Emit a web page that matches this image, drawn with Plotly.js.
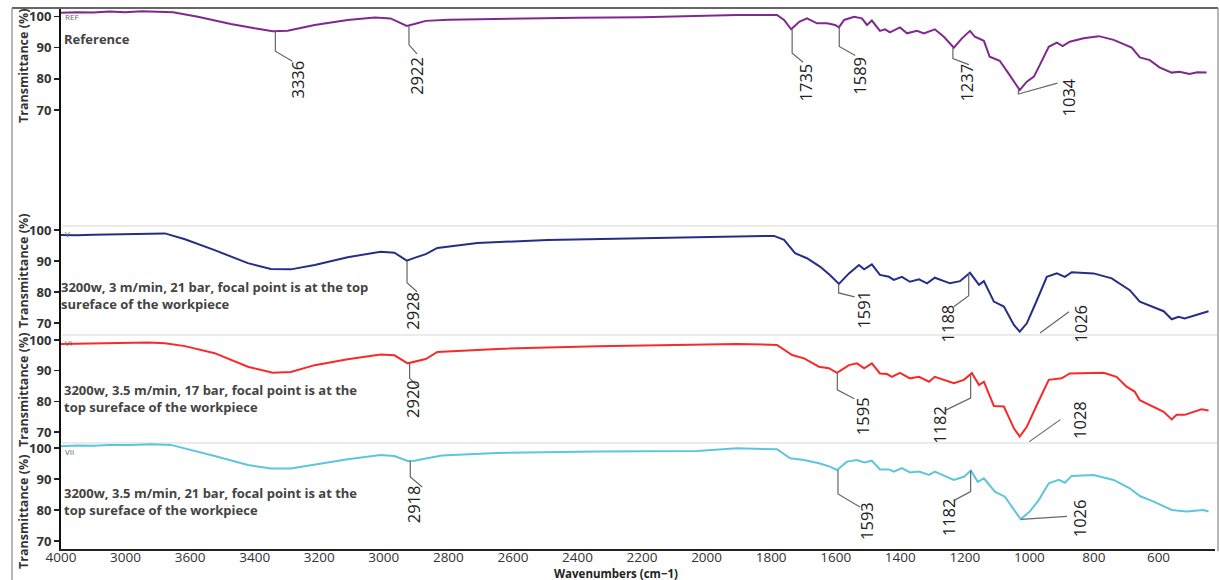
<!DOCTYPE html>
<html>
<head>
<meta charset="utf-8">
<script src="https://cdn.plot.ly/plotly-3.0.1.min.js"></script>
<style>html,body{margin:0;padding:0;background:#fff;}#chart{width:1220px;height:580px;}</style>
</head>
<body>
<div id="chart"></div>
<script>
// ---------------- DATA ----------------
const xTickVals = [4000, 3800, 3600, 3400, 3200, 3000, 2800, 2600, 2400, 2200, 2000, 1800, 1600, 1400, 1200, 1000, 800, 600];
const xTickText = ['4000', '3000', '3600', '3400', '3200', '3000', '2800', '2600', '2400', '2200', '2000', '1800', '1600', '1400', '1200', '1000', '800', '600'];
const yTickVals = [70, 80, 90, 100];

const refWn = [4000, 3950, 3900, 3850, 3800, 3750, 3700, 3653, 3576, 3474, 3400, 3344, 3298, 3214, 3112, 3028, 2979, 2929, 2905, 2870, 2800, 2600, 2400, 2200, 2000, 1906, 1782, 1760, 1738, 1713, 1689, 1658, 1627, 1602, 1590, 1574, 1543, 1519, 1503, 1488, 1463, 1447, 1432, 1401, 1379, 1348, 1327, 1293, 1265, 1234, 1209, 1184, 1169, 1141, 1123, 1092, 1061, 1030, 1008, 986, 968, 940, 915, 897, 875, 832, 785, 739, 683, 658, 627, 597, 559, 535, 504, 480, 451];
const refT = [101.2, 101.4, 101.3, 101.6, 101.4, 101.7, 101.5, 101.4, 99.9, 97.6, 96.2, 95.3, 95.4, 97.3, 98.9, 99.7, 99.4, 97.0, 97.6, 98.6, 99.0, 99.4, 99.6, 99.8, 100.2, 100.5, 100.5, 98.9, 95.9, 98.3, 99.4, 97.8, 97.8, 97.3, 96.5, 98.9, 99.9, 99.4, 97.3, 98.7, 95.4, 95.9, 94.9, 96.5, 94.6, 95.4, 94.6, 95.9, 93.5, 90.0, 93.0, 95.4, 93.5, 92.2, 87.1, 85.8, 81.2, 76.4, 79.1, 80.7, 84.4, 90.3, 91.6, 90.5, 91.9, 93.0, 93.7, 92.5, 90.0, 86.9, 86.0, 83.7, 82.0, 82.3, 81.6, 82.1, 82.0];

const vWn = [4000, 3950, 3900, 3850, 3783, 3730, 3678, 3616, 3524, 3421, 3350, 3288, 3214, 3112, 3010, 2967, 2929, 2905, 2870, 2834, 2710, 2493, 2184, 2029, 1906, 1791, 1760, 1726, 1689, 1649, 1618, 1590, 1559, 1528, 1512, 1488, 1463, 1435, 1420, 1395, 1370, 1342, 1317, 1293, 1246, 1215, 1184, 1156, 1141, 1110, 1079, 1048, 1030, 1008, 983, 946, 915, 890, 869, 801, 745, 689, 658, 615, 584, 559, 538, 519, 482, 445];
const vT = [98.4, 98.3, 98.5, 98.6, 98.7, 98.9, 98.9, 97.0, 93.5, 89.3, 87.4, 87.3, 88.7, 91.2, 93.0, 92.7, 90.1, 91.0, 92.2, 94.2, 95.8, 96.8, 97.4, 97.7, 98.1, 98.1, 96.8, 92.5, 90.9, 88.2, 85.5, 82.6, 86.0, 88.7, 87.3, 88.9, 85.5, 84.9, 83.9, 84.9, 83.3, 84.1, 82.8, 84.6, 82.8, 83.5, 86.2, 82.3, 83.5, 76.9, 75.3, 69.4, 67.2, 69.9, 75.8, 84.9, 86.0, 84.9, 86.4, 86.0, 84.4, 80.6, 76.9, 75.1, 73.8, 71.2, 72.0, 71.5, 72.6, 73.8];

const viWn = [4000, 3950, 3900, 3850, 3783, 3730, 3678, 3616, 3524, 3421, 3344, 3288, 3214, 3112, 3010, 2967, 2926, 2905, 2870, 2834, 2648, 2338, 2029, 1906, 1782, 1735, 1698, 1652, 1621, 1596, 1559, 1534, 1512, 1488, 1463, 1441, 1426, 1401, 1370, 1342, 1311, 1293, 1234, 1203, 1178, 1156, 1141, 1110, 1079, 1048, 1030, 1008, 977, 940, 900, 875, 770, 730, 699, 674, 658, 615, 584, 559, 544, 519, 467, 445];
const viT = [98.7, 98.8, 99.0, 98.9, 99.1, 99.2, 98.9, 98.0, 95.7, 91.3, 89.3, 89.6, 91.8, 93.7, 95.3, 95.0, 92.4, 92.9, 93.8, 96.1, 97.1, 98.0, 98.4, 98.7, 98.4, 95.1, 94.0, 91.3, 90.8, 89.3, 91.8, 92.4, 90.8, 92.4, 89.1, 88.9, 88.0, 89.3, 87.5, 88.0, 86.4, 88.0, 85.9, 87.0, 89.2, 85.3, 86.4, 78.5, 78.3, 71.2, 68.5, 71.7, 78.8, 87.0, 87.5, 89.1, 89.3, 88.0, 84.8, 83.2, 80.4, 78.3, 76.6, 74.1, 75.6, 75.6, 77.4, 77.0];

const viiWn = [4000, 3950, 3900, 3850, 3783, 3720, 3660, 3616, 3524, 3421, 3350, 3288, 3214, 3112, 3010, 2967, 2926, 2905, 2870, 2820, 2650, 2340, 2029, 1906, 1782, 1741, 1698, 1652, 1618, 1596, 1565, 1534, 1512, 1488, 1463, 1435, 1420, 1395, 1370, 1342, 1311, 1293, 1234, 1203, 1181, 1160, 1141, 1107, 1076, 1048, 1027, 999, 971, 940, 909, 890, 869, 801, 739, 689, 658, 615, 584, 559, 513, 461, 445];
const viiT = [100.6, 100.8, 100.7, 101.0, 101.0, 101.2, 101.0, 99.9, 97.4, 94.5, 93.4, 93.4, 94.7, 96.4, 97.7, 97.4, 95.8, 95.9, 96.6, 97.6, 98.4, 98.9, 99.0, 99.9, 99.6, 96.7, 96.1, 95.1, 94.0, 92.9, 95.6, 96.1, 95.3, 95.9, 93.1, 93.1, 92.4, 93.5, 92.1, 92.4, 91.3, 92.4, 89.7, 90.7, 92.7, 89.1, 90.2, 85.9, 84.3, 80.0, 77.0, 79.5, 83.2, 88.6, 89.7, 88.8, 91.0, 91.3, 89.7, 87.0, 84.5, 82.7, 81.3, 80.0, 79.5, 80.0, 79.5];

// peak labels (wavenumber) and the transmittance at the marked point
const refPeakWn = [3336, 2922, 1735, 1589, 1237, 1034];
const refPeakT  = [95.3, 97.0, 95.9, 96.5, 90.0, 76.4];
const vPeakWn   = [2928, 1591, 1188, 1026];
const vPeakT    = [90.1, 82.6, 86.2, 67.2];
const viPeakWn  = [2920, 1595, 1182, 1028];
const viPeakT   = [92.4, 89.3, 89.2, 68.5];
const viiPeakWn = [2918, 1593, 1182, 1026];
const viiPeakT  = [95.8, 92.9, 92.7, 77.0];

const panelTags = ['REF', 'V', 'VI', 'VII'];
const panelNotes = [
  'Reference',
  '3200w, 3 m/min, 21 bar, focal point is at the top<br>sureface of the workpiece',
  '3200w, 3.5 m/min, 17 bar, focal point is at the<br>top sureface of the workpiece',
  '3200w, 3.5 m/min, 21 bar, focal point is at the<br>top sureface of the workpiece'
];
const seriesColors = ['#80288f', '#252e86', '#f72a2a', '#5ec6dc'];

// ---------------- LAYOUT GEOMETRY (pixels) ----------------
const W = 1220, H = 580;
const ML = 61, MR = 5, MT = 8, MB = 31;
const PW = W - ML - MR, PH = H - MT - MB;
const XR = [4000, 425];
const panelPx = [[8, 226], [226, 335], [335, 443], [443, 549]];
const ranges = [[32.79, 102.73], [66.13, 101.29], [66.42, 101.63], [67.42, 101.61]];
const pxX = x => (x - ML) / PW;
const pxY = y => (MT + PH - y) / PH;
const kx = PW / (XR[0] - XR[1]);

// leader geometry: pixel offsets from the peak point, and label centre offset
const leaders = [
  [ {pts: [[0,0],[0,20],[17,30]], t: [22,48]},
    {pts: [[0,0],[0,19],[8,28]],  t: [8,50]},
    {pts: [[0,0],[0,24],[11,33]], t: [13,53]},
    {pts: [[0,0],[0,19],[16,28]], t: [20,48]},
    {pts: [[0,0],[0,11],[16,17]], t: [14,35]},
    {pts: [[0,0],[0,4],[39,-7]],  t: [50,7]} ],
  [ {pts: [[0,0],[0,22],[10,31]], t: [6,50]},
    {pts: [[0,0],[0,9],[16,13]],  t: [25,26]},
    {pts: [[0,0],[0,23],[-15,34]], t: [-21,51]},
    {pts: [[19,1.3],[48,-20]],    t: [60,-8]} ],
  [ {pts: [[0,0],[0,15],[9,24]],  t: [3,36]},
    {pts: [[0,0],[0,17],[17,26]], t: [25,43]},
    {pts: [[0,0],[0,25],[-25,37]], t: [-32,52]},
    {pts: [[9,5],[40,-17]],       t: [59,-17]} ],
  [ {pts: [[0,0],[0,16],[12,26]], t: [3,43]},
    {pts: [[0,0],[0,24],[22,37]], t: [28,51]},
    {pts: [[0,0],[0,21],[-17,30]], t: [-22,47]},
    {pts: [[0,0],[46,-3]],        t: [58,-1]} ]
];

const wnSets = [refWn, vWn, viWn, viiWn];
const tSets = [refT, vT, viT, viiT];
const peakWnSets = [refPeakWn, vPeakWn, viPeakWn, viiPeakWn];
const peakTSets = [refPeakT, vPeakT, viPeakT, viiPeakT];

const traces = [];
const shapes = [];
const annotations = [];
const layout = {
  width: W, height: H,
  margin: {l: ML, r: MR, t: MT, b: MB},
  paper_bgcolor: '#ffffff', plot_bgcolor: 'rgba(0,0,0,0)',
  showlegend: false,
  font: {family: 'Open Sans, sans-serif', color: '#333'},
  xaxis: {
    range: XR, domain: [0, 1], anchor: 'y4',
    tickvals: xTickVals, ticktext: xTickText,
    ticks: '', showgrid: false, zeroline: false,
    showline: true, linecolor: '#222', linewidth: 2,
    ticklabelstandoff: -5,
    tickfont: {family: 'Open Sans, sans-serif', size: 13.5, color: '#333'}
  }
};

const titleY = [66, 271, 390, 512];
const noteY = [39, 295, 398, 501];
const tagY = [17, 233, 342, 451];

for (let p = 0; p < 4; p++) {
  const yid = p === 0 ? 'y' : 'y' + (p + 1);
  const yname = p === 0 ? 'yaxis' : 'yaxis' + (p + 1);
  const [top, bot] = panelPx[p];
  const rng = ranges[p];
  const ky = (bot - top) / (rng[1] - rng[0]);
  layout[yname] = {
    domain: [pxY(bot), pxY(top)], range: rng, anchor: 'x',
    tickvals: yTickVals, ticks: 'outside', ticklen: 5, tickwidth: 1.5, tickcolor: '#222',
    showline: true, linecolor: '#111', linewidth: 2,
    showgrid: false, zeroline: false,
    tickfont: {family: 'Open Sans, sans-serif', size: 13, color: '#333', weight: 'bold'}
  };
  traces.push({
    type: 'scatter', mode: 'lines', x: wnSets[p], y: tSets[p],
    xaxis: 'x', yaxis: yid,
    line: {color: seriesColors[p], width: 2}, hoverinfo: 'skip'
  });
  // peak leaders + labels
  const pw = peakWnSets[p], pt = peakTSets[p];
  for (let i = 0; i < pw.length; i++) {
    const g = leaders[p][i];
    const path = g.pts.map((d, j) => (j === 0 ? 'M ' : 'L ') + (pw[i] - d[0] / kx) + ',' + (pt[i] - d[1] / ky)).join(' ');
    shapes.push({type: 'path', xref: 'x', yref: yid, path: path, line: {color: '#666', width: 1.2}});
    annotations.push({
      xref: 'x', yref: yid, x: pw[i] - g.t[0] / kx, y: pt[i] - g.t[1] / ky,
      text: String(pw[i]), showarrow: false, textangle: -90,
      xanchor: 'center', yanchor: 'middle',
      font: {family: 'Open Sans, sans-serif', size: 16.5, color: '#222'}
    });
  }
  // y titles
  annotations.push({
    xref: 'paper', yref: 'paper', x: pxX(23), y: pxY(titleY[p]),
    text: 'Transmittance (%)', showarrow: false, textangle: -90,
    xanchor: 'center', yanchor: 'middle',
    font: {family: 'Open Sans, sans-serif', size: 12.5, color: '#333', weight: 'bold'}
  });
  // series notes
  annotations.push({
    xref: 'paper', yref: 'paper', x: pxX(p === 1 ? 59 : 62), y: pxY(noteY[p]),
    text: panelNotes[p], showarrow: false, align: 'left',
    xanchor: 'left', yanchor: 'middle',
    font: {family: 'Open Sans, sans-serif', size: 13, color: '#444', weight: 'bold'}
  });
  // small tags
  annotations.push({
    xref: 'paper', yref: 'paper', x: pxX(63), y: pxY(tagY[p]),
    text: panelTags[p], showarrow: false, xanchor: 'left', yanchor: 'middle',
    font: {family: 'Open Sans, sans-serif', size: 8, color: '#666'}
  });
}

// panel separators
[226, 335, 443].forEach(y => {
  shapes.push({type: 'line', xref: 'paper', yref: 'paper', x0: pxX(62), x1: pxX(1217), y0: pxY(y), y1: pxY(y), line: {color: '#e4e4e4', width: 1.5}, layer: 'below'});
});
// outer frame
shapes.push({type: 'line', xref: 'paper', yref: 'paper', x0: pxX(12), x1: pxX(1218), y0: pxY(8), y1: pxY(8), line: {color: '#666', width: 2}});
shapes.push({type: 'line', xref: 'paper', yref: 'paper', x0: pxX(12), x1: pxX(12), y0: pxY(8), y1: pxY(580), line: {color: '#888', width: 1.2}});
shapes.push({type: 'line', xref: 'paper', yref: 'paper', x0: pxX(1218), x1: pxX(1218), y0: pxY(8), y1: pxY(551), line: {color: '#888', width: 1.2}});

// x-axis title
annotations.push({
  xref: 'paper', yref: 'paper', x: pxX(616), y: pxY(573.5),
  text: 'Wavenumbers (cm\u22121)', showarrow: false, xanchor: 'center', yanchor: 'middle',
  font: {family: 'Open Sans, sans-serif', size: 11.5, color: '#222', weight: 'bold'}
});

layout.shapes = shapes;
layout.annotations = annotations;

Plotly.newPlot('chart', traces, layout, {staticPlot: true, displayModeBar: false});
</script>
</body>
</html>
